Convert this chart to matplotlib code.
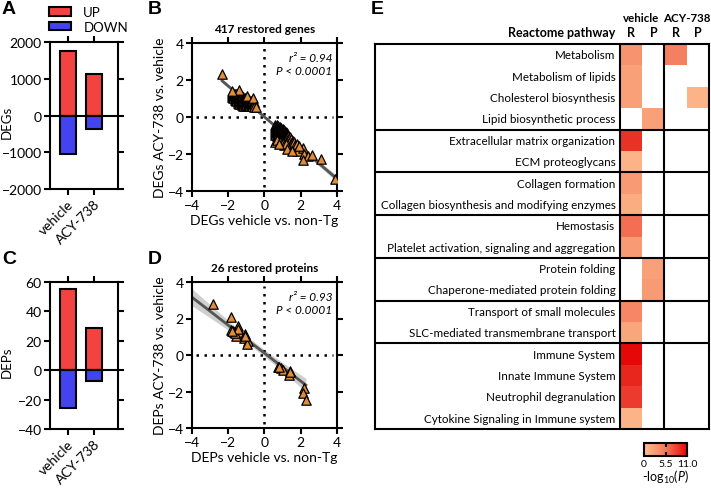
import numpy as np
import matplotlib
matplotlib.use('Agg')
import matplotlib.pyplot as plt
from matplotlib.colors import LinearSegmentedColormap
from matplotlib.patches import Patch

plt.rcParams['font.family'] = ['Lato', 'DejaVu Sans']
plt.rcParams['mathtext.fontset'] = 'custom'
plt.rcParams['mathtext.rm'] = 'Lato'
plt.rcParams['mathtext.it'] = 'Lato:italic'

# ---- data ----
groups = ['vehicle', 'ACY-738']
deg_up = [1750, 1130]
deg_down = [-1050, -380]
dep_up = [55, 28.5]
dep_down = [-26, -7.5]

# panel B: restored genes, upper-left cluster (down in vehicle, up with ACY-738)
ul_x = [-1.80, -1.80, -1.80, -1.72, -1.72, -1.72,
        -1.64, -1.64, -1.64, -1.64, -1.56, -1.56, -1.56, -1.56,
        -1.48, -1.48, -1.48, -1.48, -1.48, -1.40, -1.40, -1.40, -1.40, -1.40,
        -1.32, -1.32, -1.32, -1.32, -1.32, -1.24, -1.24, -1.24, -1.24, -1.24,
        -1.16, -1.16, -1.16, -1.16, -1.16, -1.08, -1.08, -1.08, -1.08, -1.08,
        -1.00, -1.00, -1.00, -1.00, -0.92, -0.92, -0.92, -0.92,
        -0.84, -0.84, -0.84, -0.84, -0.76, -0.76, -0.76,
        -0.68, -0.68, -0.68, -0.60, -0.60, -0.60,
        -2.34, -1.38, -0.99, -0.64, -0.48, -1.79]
ul_y = [1.30, 1.18, 1.06, 1.28, 1.16, 1.04,
        1.26, 1.14, 1.02, 0.90, 1.24, 1.12, 1.00, 0.88,
        1.22, 1.10, 0.98, 0.86, 0.74, 1.20, 1.08, 0.96, 0.84, 0.72,
        1.16, 1.04, 0.92, 0.80, 0.68, 1.12, 1.00, 0.88, 0.76, 0.64,
        1.08, 0.96, 0.84, 0.72, 0.60, 1.04, 0.92, 0.80, 0.68, 0.60,
        1.00, 0.88, 0.76, 0.64, 0.96, 0.84, 0.72, 0.60,
        0.92, 0.80, 0.68, 0.58, 0.88, 0.76, 0.64,
        0.84, 0.72, 0.60, 0.80, 0.68, 0.56,
        2.34, 1.46, 1.14, 1.05, 0.54, 1.40]
# lower-right cluster (up in vehicle, down with ACY-738)
lr_x = [0.60, 0.60, 0.60, 0.60, 0.60, 0.60,
        0.68, 0.68, 0.68, 0.68, 0.68, 0.68, 0.68,
        0.76, 0.76, 0.76, 0.76, 0.76, 0.76, 0.76,
        0.84, 0.84, 0.84, 0.84, 0.84, 0.84, 0.84,
        0.92, 0.92, 0.92, 0.92, 0.92, 0.92, 0.92,
        1.00, 1.00, 1.00, 1.00, 1.00, 1.00,
        1.08, 1.08, 1.08, 1.08, 1.08, 1.08,
        1.16, 1.16, 1.16, 1.16, 1.16,
        1.24, 1.24, 1.24, 1.24, 1.24,
        1.32, 1.32, 1.40, 1.40, 1.48, 1.48, 1.56, 1.56, 1.64, 1.70,
        0.59, 0.70, 0.85, 1.00, 1.10, 1.20,
        0.79, 1.25, 1.77, 1.84, 2.12, 2.17, 2.39, 2.63, 2.14, 3.09, 3.87,
        1.53, 1.90]
lr_y = [-0.45, -0.55, -0.65, -0.75, -0.85, -0.95,
        -0.45, -0.55, -0.65, -0.75, -0.85, -0.95, -1.05,
        -0.50, -0.60, -0.70, -0.80, -0.90, -1.00, -1.10,
        -0.55, -0.65, -0.75, -0.85, -0.95, -1.05, -1.15,
        -0.60, -0.70, -0.80, -0.90, -1.00, -1.10, -1.20,
        -0.65, -0.75, -0.85, -0.95, -1.05, -1.15,
        -0.70, -0.80, -0.90, -1.00, -1.10, -1.20,
        -0.80, -0.90, -1.00, -1.10, -1.20,
        -0.85, -0.95, -1.05, -1.15, -1.25,
        -1.00, -1.20, -1.10, -1.30, -1.20, -1.40, -1.30, -1.50, -1.35, -1.50,
        -1.37, -1.25, -1.35, -1.40, -1.50, -1.45,
        -1.48, -1.75, -1.44, -1.84, -1.66, -1.98, -2.11, -2.05, -2.34, -2.29, -3.37,
        -1.84, -1.57]
genes_fit = (-0.836, 0.0)     # slope, intercept

# panel D: restored proteins
prot_x = [-2.84, -1.86, -1.47, -1.84, -1.69, -1.42, -1.57, -1.09, -1.14, -0.92,
          -0.99, -1.75, -1.60, -1.45, -1.10, -1.80,
          0.74, 0.92, 1.03, 1.38, 1.34, 2.17, 2.10, 2.28, 0.80, 1.40]
prot_y = [2.79, 2.10, 1.61, 1.39, 1.24, 1.28, 1.06, 1.15, 0.91, 0.79,
          0.60, 1.30, 1.20, 1.40, 1.05, 1.30,
          -0.68, -0.73, -0.82, -0.86, -1.08, -1.83, -2.08, -2.47, -0.65, -0.95]
prot_fit = (-0.766, 0.10)

pathways = ['Metabolism', 'Metabolism of lipids', 'Cholesterol biosynthesis',
            'Lipid biosynthetic process', 'Extracellular matrix organization',
            'ECM proteoglycans', 'Collagen formation',
            'Collagen biosynthesis and modifying enzymes', 'Hemostasis',
            'Platelet activation, signaling and aggregation', 'Protein folding',
            'Chaperone-mediated protein folding', 'Transport of small molecules',
            'SLC-mediated transmembrane transport', 'Immune System',
            'Innate Immune System', 'Neutrophil degranulation',
            'Cytokine Signaling in Immune system']
nan = np.nan
veh_R = [3.5, 2.5, 2.5, nan, 9.0, 1.0, 3.0, 1.5, 6.0, 3.0,
         nan, nan, 4.5, 2.0, 11.0, 9.5, 8.5, 1.0]
veh_P = [nan, nan, nan, 2.5, nan, nan, nan, nan, nan, nan,
         2.5, 3.0, nan, nan, nan, nan, nan, nan]
acy_R = [5.0, nan, nan, nan, nan, nan, nan, nan, nan, nan,
         nan, nan, nan, nan, nan, nan, nan, nan]
acy_P = [nan, nan, 1.0, nan, nan, nan, nan, nan, nan, nan,
         nan, nan, nan, nan, nan, nan, nan, nan]
group_breaks = [4, 6, 8, 10, 12, 14]

RED = '#F34341'
BLUE = '#4343EF'
ORANGE = '#E08C38'
LW = 1.5

fig = plt.figure(figsize=(7.11, 4.89), dpi=100)
W, H = 711.0, 489.0


def box(l, t, r, b):
    return [l / W, 1 - b / H, (r - l) / W, (b - t) / H]


def style(ax, size=9):
    for s in ax.spines.values():
        s.set_linewidth(LW)
    ax.tick_params(width=LW, length=4, direction='out', top=True, right=True,
                   labelsize=size, pad=2)


# ---- bar panels ----
def bars(ax, up, down, lim, step, ylabel):
    pos = np.arange(len(groups))
    ax.bar(pos, up, width=0.6, color=RED, edgecolor='k', linewidth=LW, zorder=2)
    ax.bar(pos, down, width=0.6, color=BLUE, edgecolor='k', linewidth=LW, zorder=2)
    ax.axhline(0, color='k', lw=LW, zorder=3)
    ax.set_xlim(-0.66, 1.9)
    ax.set_ylim(lim)
    ax.set_yticks(np.arange(lim[0], lim[1] + 1, step))
    ax.set_xticks(pos)
    ax.set_xticklabels(groups, rotation=45, ha='right', va='top',
                       rotation_mode='anchor')
    ax.set_ylabel(ylabel, fontsize=9.5, va='center')
    ax.yaxis.set_label_coords(-0.63, 0.46)
    style(ax, 10)


axA = fig.add_axes(box(50, 43, 118, 190))
bars(axA, deg_up, deg_down, (-2000, 2000), 1000, 'DEGs')
axC = fig.add_axes(box(50, 283, 118, 430))
bars(axC, dep_up, dep_down, (-40, 60), 20, 'DEPs')

handles = [Patch(facecolor=RED, edgecolor='k', linewidth=LW),
           Patch(facecolor=BLUE, edgecolor='k', linewidth=LW)]
fig.legend(handles, ['UP', 'DOWN'], loc='upper left',
           bbox_to_anchor=(49 / W, 1 - 7 / H), frameon=False, fontsize=9.5,
           handlelength=1.7, handleheight=0.6, handletextpad=0.9,
           labelspacing=0.2, borderpad=0, borderaxespad=0)


# ---- scatter panels ----
def scatter(ax, xs, ys, fit, band_k, title, xlabel, ylabel, r2, xfit):
    xs = np.asarray(xs)
    ys = np.asarray(ys)
    slope, icpt = fit
    n = len(xs)
    resid = ys - (slope * xs + icpt)
    s = np.sqrt(np.sum(resid ** 2) / (n - 2))
    xx = np.linspace(xfit[0], xfit[1], 100)
    yy = slope * xx + icpt
    se = s * np.sqrt(1.0 / n + (xx - xs.mean()) ** 2 / np.sum((xs - xs.mean()) ** 2))
    ax.fill_between(xx, yy - band_k * se, yy + band_k * se, color='#CFCFCF',
                    lw=0, zorder=1)
    ax.plot(xx, yy, color='#555555', lw=2, zorder=2)
    ax.axhline(0, xmin=0.03, xmax=0.97, color='k', ls=(0, (1, 2.2)), lw=1.8, zorder=1.5)
    ax.axvline(0, ymin=0.03, ymax=0.97, color='k', ls=(0, (1, 2.2)), lw=1.8, zorder=1.5)
    ax.scatter(xs, ys, marker='^', s=46, facecolor=ORANGE, edgecolor='k',
               linewidth=0.9, zorder=3)
    ax.set_xlim(-4, 4)
    ax.set_ylim(-4, 4)
    ax.set_xticks([-4, -2, 0, 2, 4])
    ax.set_yticks([-4, -2, 0, 2, 4])
    ax.set_title(title, fontsize=8.5, fontweight='bold', pad=8)
    ax.set_xlabel(xlabel, fontsize=10, labelpad=2)
    ax.set_ylabel(ylabel, fontsize=10, labelpad=1)
    ax.text(3.75, 3.2, 'r² = ' + r2, ha='right', va='center', style='italic',
            fontsize=8.5)
    ax.text(3.75, 2.5, 'P < 0.0001', ha='right', va='center', style='italic',
            fontsize=8.5)
    style(ax, 10)


genes_x = ul_x + lr_x
genes_y = ul_y + lr_y
axB = fig.add_axes(box(192, 44, 337, 192))
scatter(axB, genes_x, genes_y, genes_fit, 2.5, '417 restored genes',
        'DEGs vehicle vs. non-Tg', 'DEGs ACY-738 vs. vehicle', '0.94',
        (min(genes_x), max(genes_x)))
axD = fig.add_axes(box(192, 283, 337, 429))
scatter(axD, prot_x, prot_y, prot_fit, 3.0, '26 restored proteins',
        'DEPs vehicle vs. non-Tg', 'DEPs ACY-738 vs. vehicle', '0.93',
        (-4, max(prot_x)))

# ---- heatmap ----
cmap = LinearSegmentedColormap.from_list('rp', ['#FDC090', '#F4795C', '#E50808'])
data = np.ma.masked_invalid(np.array([veh_R, veh_P, acy_R, acy_P]).T)
axE = fig.add_axes(box(375, 45, 709, 430))
mesh = axE.pcolormesh(np.arange(5), np.arange(len(pathways) + 1), data,
                      cmap=cmap, vmin=0, vmax=11)
axE.set_xlim(-11.0, 4)
axE.set_ylim(len(pathways), 0)
axE.set_xticks([])
axE.set_yticks([])
for s in axE.spines.values():
    s.set_linewidth(LW)
axE.axvline(0, color='k', lw=LW)
axE.axvline(2, color='k', lw=LW)
for b in group_breaks:
    axE.axhline(b, color='k', lw=LW)
for i, name in enumerate(pathways):
    axE.text(-0.2, i + 0.5, name, ha='right', va='center', fontsize=8.4)
axE.text(-0.2, -0.56, 'Reactome pathway', ha='right', va='center',
         fontsize=9, fontweight='bold')
for j, lab in enumerate(['R', 'P', 'R', 'P']):
    axE.text(j + 0.5, -0.56, lab, ha='center', va='center', fontsize=9,
             fontweight='bold')
axE.text(0.95, -1.26, 'vehicle', ha='center', va='center', fontsize=8.3,
         fontweight='bold')
axE.text(3.0, -1.26, 'ACY-738', ha='center', va='center', fontsize=8.3,
         fontweight='bold')

cax = fig.add_axes(box(644, 444, 687, 457))
cb = fig.colorbar(mesh, cax=cax, orientation='horizontal')
cb.set_ticks([0, 5.5, 11])
cb.set_ticklabels(['0', '5.5', '11.0'])
cb.outline.set_linewidth(LW)
cb.ax.tick_params(direction='in', length=3, width=LW, top=True, labelsize=7.5,
                  pad=2)
cb.set_label(r'-log$_{10}$($\it{P}$)', fontsize=9, labelpad=0)

# ---- panel letters ----
for lab, x, y in [('A', 2, 1), ('B', 148, 1), ('C', 2, 251), ('D', 148, 251),
                  ('E', 371, 1)]:
    fig.text(x / W, 1 - y / H, lab, ha='left', va='top', fontsize=14,
             fontweight='bold', family='Liberation Sans')

fig.savefig('out.png', dpi=100)
